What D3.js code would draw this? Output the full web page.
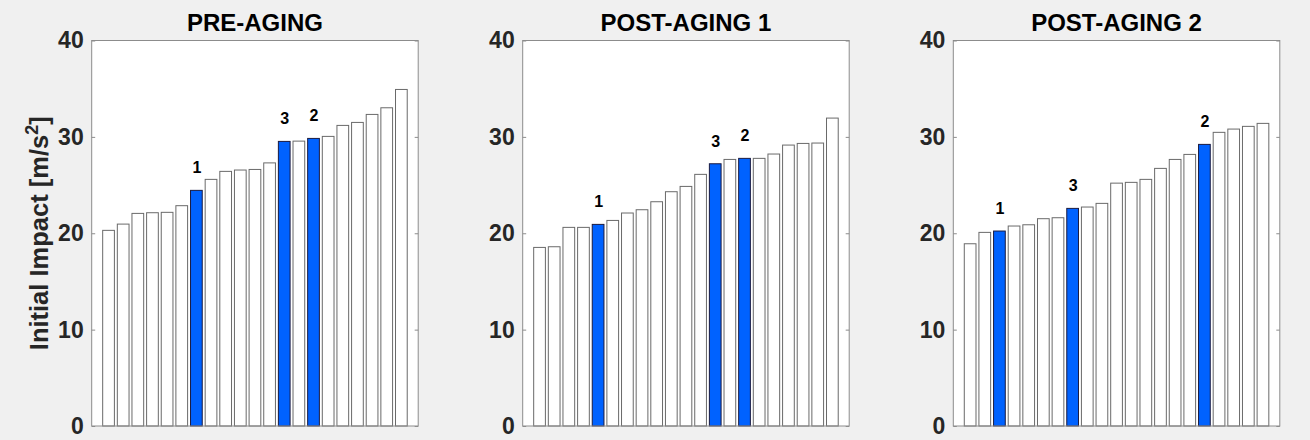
<!DOCTYPE html>
<html><head><meta charset="utf-8">
<script src="https://cdn.jsdelivr.net/npm/d3@7"></script>
<style>body{margin:0;background:#f0f0f0;} svg{display:block;}</style>
</head><body>
<script>
const panelTitles = ["PRE-AGING", "POST-AGING 1", "POST-AGING 2"];
const preAging = [20.3,20.95,22.06,22.13,22.17,22.86,24.45,25.59,26.42,26.56,26.62,27.3,29.53,29.56,29.84,30.05,31.19,31.5,32.33,33.02,34.92];
const postAging1 = [18.53,18.6,20.61,20.61,20.92,21.33,22.1,22.44,23.27,24.31,24.86,26.11,27.21,27.66,27.77,27.77,28.22,29.15,29.32,29.36,31.95];
const postAging2 = [18.91,20.09,20.23,20.75,20.88,21.51,21.61,22.58,22.72,23.1,25.2,25.28,25.59,26.73,27.66,28.18,29.22,30.47,30.81,31.09,31.4];
// highlighted bars: index (1-based) -> label
const highlight1 = [{bar:7,label:"1"},{bar:13,label:"3"},{bar:15,label:"2"}];
const highlight2 = [{bar:5,label:"1"},{bar:13,label:"3"},{bar:15,label:"2"}];
const highlight3 = [{bar:3,label:"1"},{bar:8,label:"3"},{bar:17,label:"2"}];
const yTicks = [0,10,20,30,40];

(function(){
const panels = [
  {title: panelTitles[0], values: preAging, hl: highlight1, left: 91.7},
  {title: panelTitles[1], values: postAging1, hl: highlight2, left: 522.7},
  {title: panelTitles[2], values: postAging2, hl: highlight3, left: 953.3}
];

const W = 1310, H = 440;
const axW = 326.5, axTop = 40.5, axBottom = 426;
const svg = d3.select("body").append("svg").attr("width", W).attr("height", H);
svg.append("rect").attr("width", W).attr("height", H).attr("fill", "#f0f0f0");

const y = d3.scaleLinear().domain([0, 40]).range([axBottom, axTop]);
const font = "'Liberation Sans', Arial, sans-serif";

panels.forEach(p => {
  const x = d3.scaleLinear().domain([-0.15, 22.15]).range([p.left, p.left + axW]);
  const g = svg.append("g");
  g.append("rect").attr("x", p.left).attr("y", axTop).attr("width", axW).attr("height", axBottom - axTop)
    .attr("fill", "#ffffff");
  const hlMap = new Map(p.hl.map(d => [d.bar, d.label]));
  const bw = 0.8 * (x(1) - x(0));
  g.selectAll("rect.bar").data(p.values).enter().append("rect")
    .attr("class", "bar")
    .attr("x", (d, i) => x(i + 1) - bw / 2)
    .attr("y", d => y(d))
    .attr("width", bw)
    .attr("height", d => y(0) - y(d))
    .attr("fill", (d, i) => hlMap.has(i + 1) ? "#0062ff" : "#ffffff")
    .attr("stroke", (d, i) => hlMap.has(i + 1) ? "#1a1a40" : "#6a6a6a")
    .attr("stroke-width", 1);
  g.selectAll("text.lbl").data(p.hl).enter().append("text")
    .attr("class", "lbl")
    .attr("x", d => x(d.bar) + 0.5)
    .attr("y", d => y(p.values[d.bar - 1]) - 17)
    .attr("text-anchor", "middle")
    .attr("font-family", font).attr("font-weight", "bold").attr("font-size", 16)
    .attr("fill", "#000").text(d => d.label);
  g.append("rect").attr("x", p.left).attr("y", axTop).attr("width", axW).attr("height", axBottom - axTop)
    .attr("fill", "none").attr("stroke", "#8c8c8c").attr("stroke-width", 1);
  const yAxisL = d3.axisLeft(y).tickValues(yTicks).tickSize(-3.5).tickPadding(8);
  const ga = g.append("g").attr("transform", `translate(${p.left},0)`).call(yAxisL);
  ga.select(".domain").remove();
  ga.selectAll(".tick line").attr("stroke", "#8c8c8c");
  ga.selectAll(".tick text").attr("font-family", font).attr("font-weight", "bold")
    .attr("font-size", 23).attr("fill", "#262626");
  const yAxisR = d3.axisRight(y).tickValues(yTicks).tickSize(-3.5).tickFormat("");
  const gr = g.append("g").attr("transform", `translate(${p.left + axW},0)`).call(yAxisR);
  gr.select(".domain").remove();
  gr.selectAll(".tick line").attr("stroke", "#8c8c8c");
  g.append("text").attr("x", p.left + axW / 2).attr("y", 31)
    .attr("text-anchor", "middle").attr("font-family", font).attr("font-weight", "bold")
    .attr("font-size", 24).attr("fill", "#000").text(p.title);
});

const yl = svg.append("text")
  .attr("transform", `translate(48,${(axTop + axBottom) / 2}) rotate(-90)`)
  .attr("text-anchor", "middle").attr("font-family", font).attr("font-size", 25.5)
  .attr("font-weight", "bold").attr("fill", "#262626");
yl.append("tspan").text("Initial Impact [m/s");
yl.append("tspan").attr("dy", -10).attr("font-size", 18).text("2");
yl.append("tspan").attr("dy", 10).text("]");
})();
</script>
</body></html>
